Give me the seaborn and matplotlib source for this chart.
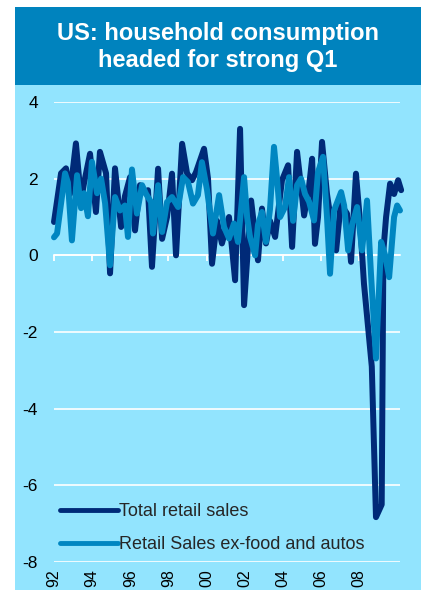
import matplotlib
matplotlib.use("Agg")
import matplotlib.pyplot as plt
from matplotlib.patches import Rectangle
import seaborn as sns
import pandas as pd

# Total retail sales, % (decimal-year dates)
total_dates = [1992.00, 1992.37, 1992.63, 1992.84, 1993.15, 1993.42, 1993.57, 1993.89,
               1994.20, 1994.41, 1994.73, 1994.94, 1995.20, 1995.52, 1995.72, 1995.99,
               1996.25, 1996.51, 1996.77, 1996.93, 1997.14, 1997.46, 1997.67, 1997.93,
               1998.19, 1998.40, 1998.72, 1998.98, 1999.24, 1999.45, 1999.87, 2000.08,
               2000.29, 2000.55, 2000.81, 2001.18, 2001.50, 2001.76, 2001.97, 2002.34,
               2002.70, 2002.91, 2003.12, 2003.33, 2003.60, 2003.96, 2004.28, 2004.49,
               2004.75, 2004.96, 2005.12, 2005.38, 2005.54, 2005.69, 2005.85, 2006.06,
               2006.32, 2006.53, 2006.80, 2007.06, 2007.22, 2007.37, 2007.58, 2007.84,
               2008.05, 2008.26, 2008.67, 2008.89, 2009.19, 2009.28, 2009.42, 2009.63,
               2009.84, 2010.05, 2010.21]
total_sales = [0.87, 2.14, 2.27, 1.60, 2.92, 1.43, 1.87, 2.65,
               1.13, 2.70, 2.14, -0.47, 2.27, 0.74, 1.54, 2.04,
               0.65, 1.83, 1.65, 1.70, -0.30, 2.26, 0.43, 1.00,
               2.13, 0.00, 2.91, 2.14, 1.96, 2.17, 2.78, 2.00,
               -0.22, 0.90, 0.31, 1.00, -0.65, 3.30, -1.30, 1.43,
               -0.13, 1.22, 0.31, 0.90, 0.48, 1.96, 2.35, 0.22,
               2.70, 1.78, 1.04, 1.80, 2.52, 0.30, 1.00, 2.96,
               1.60, 0.90, 0.13, 1.43, 1.20, 1.09, -0.17, 2.13,
               0.90, -0.74, -2.90, -6.83, -6.50, 0.13, 1.00, 1.87,
               1.60, 1.96, 1.70]

# Retail sales excluding food and autos, %
core_dates = [1992.00, 1992.16, 1992.58, 1992.73, 1992.94, 1993.21, 1993.42, 1993.57,
              1993.78, 1993.99, 1994.26, 1994.47, 1994.68, 1994.94, 1995.20, 1995.46,
              1995.72, 1995.88, 1996.09, 1996.35, 1996.62, 1996.83, 1997.09, 1997.19,
              1997.46, 1997.67, 1997.93, 1998.19, 1998.51, 1998.77, 1999.03, 1999.29,
              1999.55, 1999.76, 2000.03, 2000.34, 2000.66, 2000.92, 2001.18, 2001.44,
              2001.65, 2001.97, 2002.13, 2002.28, 2002.55, 2002.70, 2002.91, 2003.12,
              2003.33, 2003.54, 2003.70, 2003.86, 2004.12, 2004.33, 2004.54, 2004.75,
              2004.96, 2005.17, 2005.38, 2005.64, 2005.85, 2006.11, 2006.32, 2006.48,
              2006.69, 2007.06, 2007.22, 2007.43, 2007.64, 2007.90, 2008.16, 2008.42,
              2008.63, 2008.89, 2009.16, 2009.37, 2009.58, 2009.84, 2010.00, 2010.15]
core_sales = [0.47, 0.57, 2.14, 1.90, 0.39, 2.09, 1.23, 1.62,
              1.02, 2.44, 1.62, 2.00, 1.36, -0.26, 1.52, 1.17,
              1.30, 0.48, 2.24, 1.09, 1.83, 1.60, 1.39, 0.57,
              1.83, 0.61, 1.39, 1.52, 1.26, 2.04, 1.91, 1.35,
              1.57, 2.43, 1.70, 0.57, 1.57, 0.74, 0.44, 0.83,
              0.35, 2.04, 1.00, 0.48, 0.00, 0.80, 1.13, 0.35,
              1.20, 2.83, 2.00, 1.00, 1.26, 2.04, 0.90, 1.83,
              2.00, 1.60, 1.40, 0.91, 2.17, 2.57, 1.00, -0.48,
              1.17, 1.65, 1.30, 0.13, 0.80, 1.26, 0.13, 1.43,
              -0.50, -2.69, 0.35, 0.00, -0.57, 1.00, 1.30, 1.17]

series_names = ["Total retail sales", "Retail Sales ex-food and autos"]
year_ticks = list(range(1992, 2009, 2))
year_labels = ["92", "94", "96", "98", "00", "02", "04", "06", "08"]
y_ticks = [4, 2, 0, -2, -4, -6, -8]

NAVY = "#002A78"
BLUE = "#0086C1"
BANNER = "#0083BE"
BG = "#92E4FE"

sns.set_theme(style="white")
plt.rcParams["font.family"] = ["Liberation Sans", "DejaVu Sans"]

fig = plt.figure(figsize=(4.21, 5.90), dpi=100)
fig.patch.set_facecolor("white")
fig.patches.append(Rectangle((15 / 421, 0), 1 - 15 / 421, 505 / 590,
                             transform=fig.transFigure, facecolor=BG,
                             edgecolor="none", zorder=-2))
fig.patches.append(Rectangle((15 / 421, 505 / 590), 1 - 15 / 421, 78 / 590,
                             transform=fig.transFigure, facecolor=BANNER,
                             edgecolor="none", zorder=-2))
fig.text(0.517, 0.921, "US: household consumption\nheaded for strong Q1",
         ha="center", va="center", color="white", fontsize=17,
         fontweight="bold", linespacing=1.22)

ax = fig.add_axes([54 / 421, 28 / 590, 346 / 421, 460 / 590])
ax.set_facecolor("none")

df_total = pd.DataFrame({"date": total_dates, "value": total_sales})
df_core = pd.DataFrame({"date": core_dates, "value": core_sales})

line_kw = dict(linewidth=4.3, solid_capstyle="round", solid_joinstyle="round")
sns.lineplot(data=df_total, x="date", y="value", ax=ax, color=NAVY, sort=False,
             estimator=None, label=series_names[0], clip_on=False, **line_kw)
sns.lineplot(data=df_core, x="date", y="value", ax=ax, color=BLUE, sort=False,
             estimator=None, label=series_names[1], clip_on=False, **line_kw)

ax.set_xlim(1992, 2010.15)
ax.set_ylim(-8, 4)
ax.set_yticks(y_ticks)
ax.set_yticklabels([str(v) for v in y_ticks])
ax.set_xticks(year_ticks)
ax.set_xticklabels(year_labels, rotation=90, va="top", ha="center")
ax.tick_params(axis="x", length=0, pad=5, labelsize=11.5, colors="black")
ax.tick_params(axis="y", length=0, pad=11.5, labelsize=12.5, colors="black")
ax.grid(axis="y", color="white", linewidth=1.2)
ax.grid(axis="x", visible=False)
ax.set_axisbelow(True)
for s in ax.spines.values():
    s.set_visible(False)
ax.set_xlabel("")
ax.set_ylabel("")

# zero line carries the year tick marks
sec = ax.secondary_xaxis(8 / 12)
sec.set_alignment("bottom")
sec.set_xticks(year_ticks)
sec.set_xticklabels([])
sec.tick_params(axis="x", direction="out", length=4, width=1.3, color="white")
sec.spines["bottom"].set_color("white")
sec.spines["bottom"].set_linewidth(1.2)
sec.spines["top"].set_visible(False)

leg = ax.legend(loc="lower left", bbox_to_anchor=(0.017, 0.019), frameon=False,
                handlelength=3.2, handletextpad=0.1, labelspacing=0.9,
                fontsize=13, borderpad=0, borderaxespad=0)
for h in leg.get_lines():
    h.set_linewidth(3.5)

fig.savefig("out.png", dpi=100)
